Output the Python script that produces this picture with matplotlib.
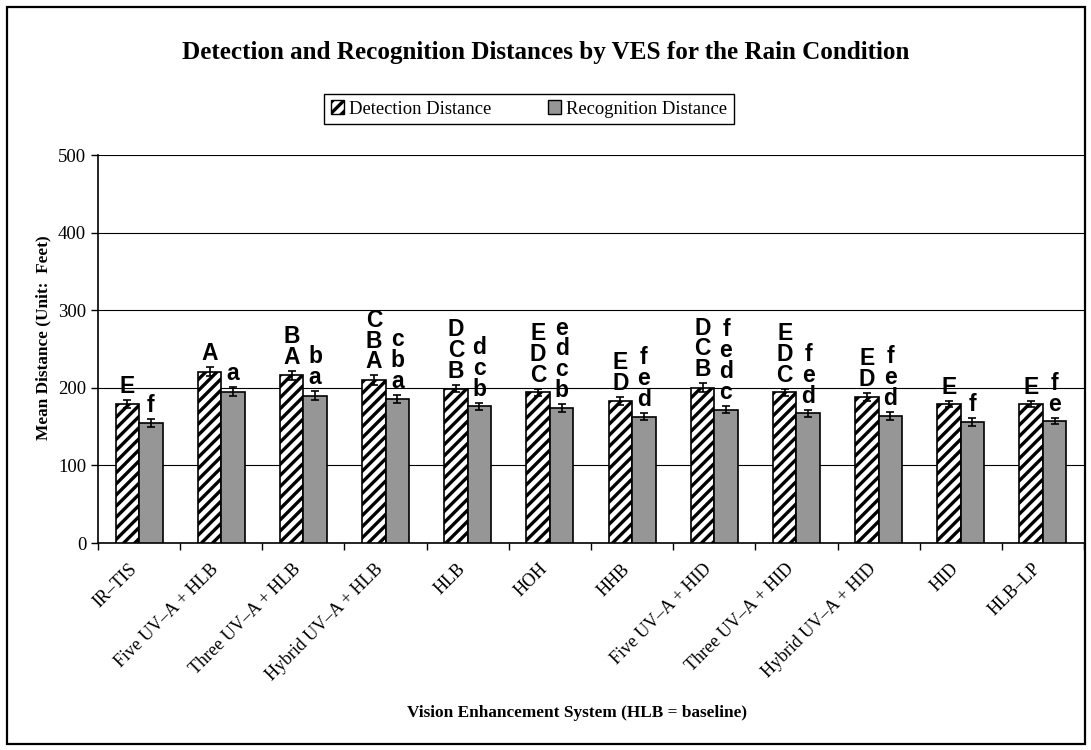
import numpy as np
import matplotlib.pyplot as plt
import matplotlib.transforms as mtransforms
from matplotlib.patches import Rectangle, Patch

plt.rcParams['font.family'] = ['Liberation Serif', 'DejaVu Serif']
plt.rcParams['hatch.linewidth'] = 2.4

systems = ['IR\u2013TIS', 'Five UV\u2013A + HLB', 'Three UV\u2013A + HLB', 'Hybrid UV\u2013A + HLB',
           'HLB', 'HOH', 'HHB', 'Five UV\u2013A + HID', 'Three UV\u2013A + HID',
           'Hybrid UV\u2013A + HID', 'HID', 'HLB\u2013LP']
detection = [179, 221, 216, 210, 199, 194, 183, 200, 194, 188, 179, 179]
recognition = [155, 195, 190, 186, 176, 174, 163, 172, 167, 164, 156, 157]
det_err = [5, 6, 6, 6, 5, 5, 5, 6, 5, 5, 4, 4]
rec_err = [5, 6, 6, 5, 5, 5, 5, 5, 5, 5, 5, 4]
det_groups = ['E', 'A', 'AB', 'ABC', 'BCD', 'CDE', 'DE', 'BCD', 'CDE', 'DE', 'E', 'E']
rec_groups = ['f', 'a', 'ab', 'abc', 'bcd', 'bcde', 'def', 'cdef', 'def', 'def', 'f', 'ef']

W, H = 1091, 750
fig = plt.figure(figsize=(W/100, H/100), dpi=100)
ax = fig.add_axes([98/W, 1-543/H, 986/W, 388/H])

x = np.arange(len(systems))
w = 0.286
ax.bar(x - w/2, detection, w, color='white', edgecolor='black', hatch='///', lw=1.2,
       yerr=det_err, capsize=3.2, error_kw=dict(elinewidth=1.2, capthick=1.2), zorder=3)
ax.bar(x + w/2, recognition, w, color='#969696', edgecolor='black', lw=1.2,
       yerr=rec_err, capsize=3.2, error_kw=dict(elinewidth=1.2, capthick=1.2), zorder=3)

# significance letters stacked above bars
for i in range(len(systems)):
    for vals, errs, groups, off in [(detection, det_err, det_groups, -w/2),
                                    (recognition, rec_err, rec_groups, w/2)]:
        for j, ch in enumerate(groups[i]):
            ax.annotate(ch, (x[i] + off, vals[i] + errs[i]), xytext=(0, 5 + j*15.0),
                        textcoords='offset points', ha='center', va='baseline',
                        fontsize=16.5, fontweight='bold', family=['Liberation Sans'])

ax.set_xlim(-0.5, len(systems) - 0.5)
ax.set_ylim(0, 500)
ax.set_yticks(np.arange(0, 501, 100))
ax.tick_params(axis='y', labelsize=13.5, length=5, width=1, direction='out')
ax.set_xticks(np.arange(len(systems) + 1) - 0.5)
ax.set_xticklabels([])
ax.tick_params(axis='x', which='major', length=5, width=1, direction='out')
ax.set_xticks(x, minor=True)
ax.set_xticklabels(systems, minor=True, rotation=45, ha='right', va='center',
                   rotation_mode='anchor', fontsize=13)
ax.tick_params(axis='x', which='minor', length=0, pad=17)
shift = mtransforms.ScaledTranslation(-5/100, 0, fig.dpi_scale_trans)
for lab in ax.get_xticklabels(minor=True):
    lab.set_transform(lab.get_transform() + shift)
ax.yaxis.grid(True, color='black', lw=0.8)
ax.set_axisbelow(True)
for s in ['top', 'right']:
    ax.spines[s].set_visible(False)
for s in ['left', 'bottom']:
    ax.spines[s].set_linewidth(1.2)

fig.text(43/W, 1-338/H, 'Mean Distance (Unit:  Feet)', rotation=90, ha='center', va='center',
         fontsize=12.4, fontweight='bold')
fig.text(577/W, 1-713/H, 'Vision Enhancement System (HLB = baseline)', ha='center', va='center',
         fontsize=12.4, fontweight='bold')
fig.text(546/W, 1-53/H, 'Detection and Recognition Distances by VES for the Rain Condition',
         ha='center', va='center', fontsize=18.1, fontweight='bold')

handles = [Patch(facecolor='white', edgecolor='black', hatch='///', lw=1),
           Patch(facecolor='#969696', edgecolor='black', lw=1)]
leg = fig.legend(handles, ['Detection Distance', 'Recognition Distance'], loc='center',
                 bbox_to_anchor=(529/W, 1-109/H), ncol=2, fontsize=13.4, frameon=True,
                 fancybox=False, edgecolor='black', framealpha=1, handlelength=0.7,
                 handleheight=0.7, handletextpad=0.3, columnspacing=3.0, borderpad=0.35)
leg.get_frame().set_linewidth(1)

fig.patches.append(Rectangle((7/W, 6/H), 1078/W, 737/H, transform=fig.transFigure,
                             fill=False, lw=1.6, ec='black'))

fig.savefig('out.png', dpi=100)
